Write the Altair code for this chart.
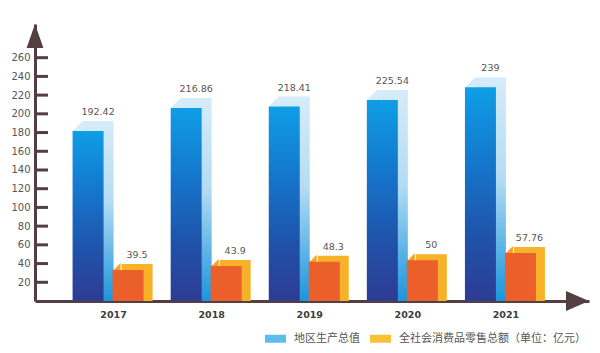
import altair as alt
import pandas as pd

years = ["2017", "2018", "2019", "2020", "2021"]
gdp = [192.42, 216.86, 218.41, 225.54, 239]
retail = [39.5, 43.9, 48.3, 50, 57.76]
series = ["地区生产总值", "全社会消费品零售总额（单位：亿元）"]
legend_colors = ["#5bbde9", "#f9c234"]
yticks = [20, 40, 60, 80, 100, 120, 140, 160, 180, 200, 220, 240, 260]

def fmt(v):
    return f"{v:g}"

df = pd.DataFrame({
    "year": years,
    "gdp": gdp,
    "retail": retail,
    "gdp_label": [fmt(v) for v in gdp],
    "retail_label": [fmt(v) for v in retail],
})
tick_df = pd.DataFrame({"t": yticks})
leg_df = pd.DataFrame({"series": series})
one = pd.DataFrame({"a": [0]})

W, H = 554, 277
AXIS_C = "#533e41"

xenc = alt.X("year:N", scale=alt.Scale(type="point", padding=0.824, align=0.483),
             axis=alt.Axis(title=None, ticks=False, grid=False, domainColor=AXIS_C,
                           domainWidth=3, labelFont="DejaVu Sans", labelFontWeight="bold",
                           labelFontSize=9.5, labelColor="#3d3d3d", labelPadding=8, labelAngle=0))
yscale = alt.Scale(domain=[0, 296], nice=False, zero=True)
yaxis = alt.Axis(title=None, values=yticks, ticks=False, grid=False,
                 labelOverlap=False, labelBound=False,
                 domainColor=AXIS_C, domainWidth=3, labelFont="DejaVu Sans",
                 labelFontSize=10, labelColor="#555555", labelPadding=5)


def yenc(field):
    return alt.Y(f"{field}:Q", scale=yscale, axis=yaxis)

blue_back = alt.Gradient(gradient="linear", x1=0, x2=0, y1=0, y2=1, stops=[
    alt.GradientStop(color="#d6ecf9", offset=0),
    alt.GradientStop(color="#b3dcf3", offset=0.45),
    alt.GradientStop(color="#1a95dc", offset=1)])
blue_front = alt.Gradient(gradient="linear", x1=0, x2=0, y1=0, y2=1, stops=[
    alt.GradientStop(color="#0f9ee6", offset=0),
    alt.GradientStop(color="#1477cc", offset=0.35),
    alt.GradientStop(color="#1f52aa", offset=0.7),
    alt.GradientStop(color="#2e3b93", offset=1)])

base = alt.Chart(df)

corner = "M-1,1L1,1L1,-1Z"

gb = base.mark_bar(width=31, xOffset=-15, fill=blue_back).encode(x=xenc, y=yenc("gdp"))
gc = base.mark_point(filled=True, shape=corner, size=100, xOffset=-35.5, yOffset=5,
                     color="#d6ecf9", opacity=1, strokeWidth=0).encode(x=xenc, y=yenc("gdp"))
gf = base.mark_bar(width=31, xOffset=-25, yOffset=10, y2Offset=0, fill=blue_front).encode(
    x=xenc, y=yenc("gdp"), y2=alt.datum(0))
rb = base.mark_bar(width=31, xOffset=24, fill="#f8b22a").encode(x=xenc, y=yenc("retail"))
rc = base.mark_point(filled=True, shape=corner, size=64, xOffset=3.5, yOffset=3,
                     color="#f4a226", opacity=1, strokeWidth=0).encode(x=xenc, y=yenc("retail"))
rf = base.mark_bar(width=31, xOffset=15, yOffset=6, y2Offset=0, fill="#ea5f2a").encode(
    x=xenc, y=yenc("retail"), y2=alt.datum(0))

gt = base.mark_text(xOffset=-15, dy=-4, baseline="bottom", font="DejaVu Sans",
                    fontSize=9.5, color="#555555").encode(x=xenc, y=yenc("gdp"), text="gdp_label:N")
rt = base.mark_text(xOffset=24, dy=-4, baseline="bottom", font="DejaVu Sans",
                    fontSize=9.5, color="#555555").encode(x=xenc, y=yenc("retail"), text="retail_label:N")

ticks = alt.Chart(tick_df).mark_rule(strokeWidth=3, color=AXIS_C).encode(
    y=alt.Y("t:Q", scale=yscale, axis=yaxis), x=alt.value(0), x2=alt.value(13))

up_arrow = alt.Chart(one).mark_point(filled=True, opacity=1, color=AXIS_C,
                                     shape="M0,-1L0.7,1L-0.7,1Z", size=576, strokeWidth=0).encode(
    x=alt.value(0), y=alt.value(12))
right_arrow = alt.Chart(one).mark_point(filled=True, opacity=1, color=AXIS_C,
                                        shape="M1,0L-1,0.87L-1,-0.87Z", size=529, strokeWidth=0).encode(
    x=alt.value(W - 11.5), y=alt.value(H))

leg_shape = "M-1,-0.38H1V0.38H-1Z"
legend_layer = alt.Chart(leg_df).mark_point(filled=True, opacity=0, shape=leg_shape).encode(
    color=alt.Color("series:N", scale=alt.Scale(domain=series, range=legend_colors),
                    legend=alt.Legend(title=None, orient="none", legendX=230, legendY=304,
                                      direction="horizontal", symbolType=leg_shape,
                                      symbolSize=441, symbolOpacity=1, symbolStrokeWidth=0,
                                      labelFont="Noto Sans CJK SC", labelFontSize=11,
                                      labelLimit=400,
                                      labelColor="#555555", labelOffset=8, columnPadding=10)))

chart = alt.layer(gb, gc, gf, rb, rc, rf, gt, rt, ticks, up_arrow, right_arrow, legend_layer).properties(
    width=W, height=H,
    autosize=alt.AutoSizeParams(type="none"),
    padding={"left": 35, "top": 24, "right": 11, "bottom": 52},
    background="white",
).configure_view(stroke=None).configure_axisY(labelOverlap=False)

chart.save("out.html", embed_options={"renderer": "svg", "actions": False})
